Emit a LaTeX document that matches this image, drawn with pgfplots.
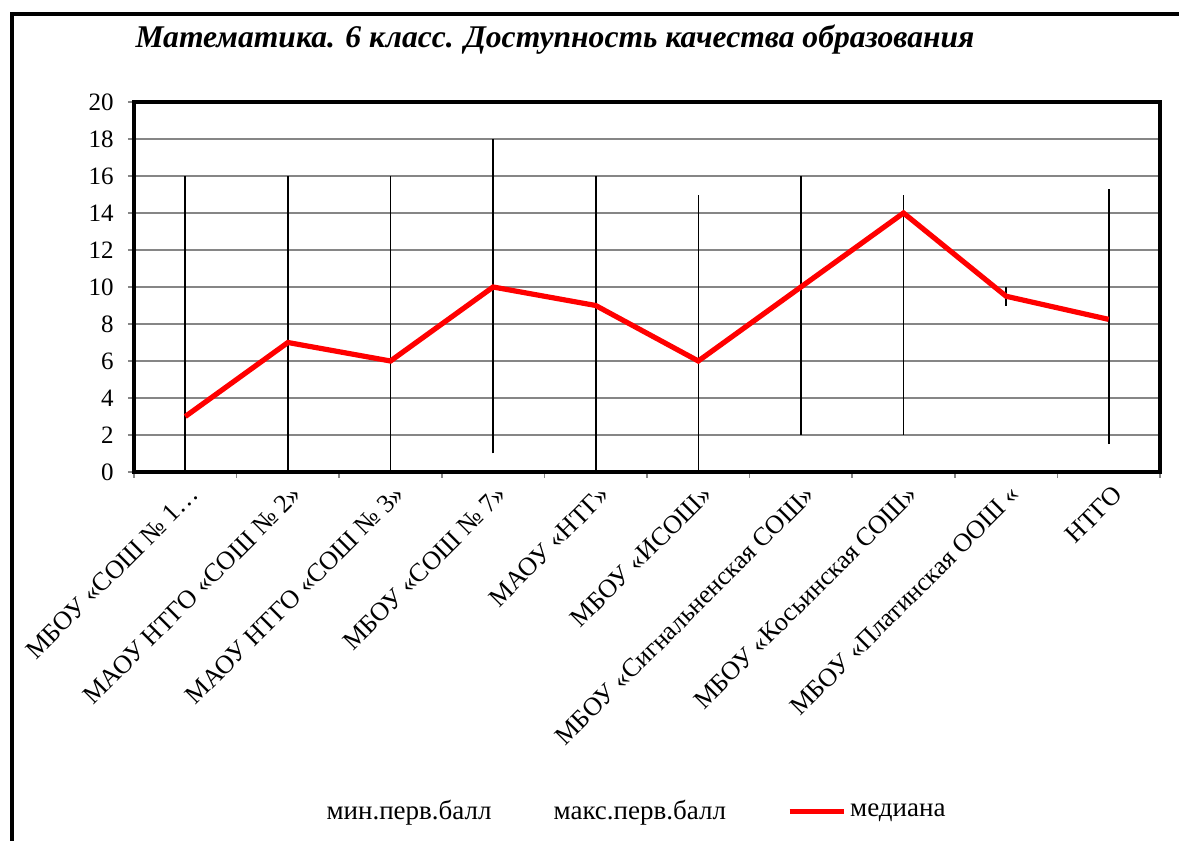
\documentclass[border=0pt]{standalone}
\usepackage{fontspec}
\setmainfont{Liberation Serif}
\usepackage{pgfplots}
\usepackage{pgfplotstable}
\pgfplotsset{compat=1.18}

\pgfplotstableread{
x min max med
1 0 16 3
2 0 16 7
3 0 16 6
4 1 18 10
5 0 16 9
6 0 15 6
7 2 16 10
8 2 15 14
9 9 10 9.5
10 1.5 15.3 8.25
}\data

\definecolor{gridgray}{RGB}{134,134,134}

\begin{document}
\begin{tikzpicture}
\begin{axis}[scale only axis,width=513pt,height=185pt,at={(67pt,184.5pt)},anchor=south west,
 xmin=0.5,xmax=10.5,ymin=0,ymax=20,
 ytick={0,2,...,20},
 xtick={1,...,10},
 xticklabels={МБОУ «СОШ № 1…,МАОУ НТГО «СОШ № 2»,МАОУ НТГО «СОШ № 3»,МБОУ «СОШ № 7»,МАОУ «НТГ»,МБОУ «ИСОШ»,МБОУ «Сигнальненская СОШ»,МБОУ «Косьинская СОШ»,МБОУ «Платинская ООШ «,НТГО},
 minor xtick={0.5,1.5,...,10.5},
 xtick pos=bottom,ytick pos=left,
 major x tick style={draw=none},
 minor x tick style={gridgray,line width=0.8pt},
 y tick style={gridgray,line width=0.8pt},
 tick align=outside,major tick length=3pt,minor tick length=3pt,
 ymajorgrids=true,grid style={gridgray,line width=0.6pt},
 axis line style={black,line width=1.8pt},
 /pgf/number format/assume math mode=true,
 yticklabel style={font=\fontsize{12.5}{14}\selectfont,inner sep=0pt,xshift=-7pt},
 xticklabel style={font=\fontsize{13}{15}\selectfont,rotate=45,anchor=north east,inner sep=0pt,yshift=-3pt,xshift=-1pt},
 legend columns=3,
 legend style={at={(0.463,-0.918)},anchor=center,draw=none,font=\fontsize{13.5}{15}\selectfont,
  /tikz/column 2/.style={column sep=0pt},/tikz/column 4/.style={column sep=28.5pt}},
 legend image code/.code={\draw[#1] (0pt,0pt) -- (27pt,0pt);},
]
\addplot[draw=none,mark=none,legend image code/.code={\path (0pt,0pt) -- (27pt,0pt);}] table[x=x,y=min] {\data};
\addlegendentry{мин.перв.балл}
\addplot[draw=none,mark=none,legend image code/.code={\path (0pt,0pt) -- (27pt,0pt);}] table[x=x,y=max] {\data};
\addlegendentry{макс.перв.балл}
\addplot[forget plot,draw=none,mark=none,error bars/.cd,y dir=plus,y explicit,error mark=none,
 error bar style={black,line width=0.8pt}] table[x=x,y=min,y error expr=\thisrow{max}-\thisrow{min}] {\data};
\addplot[red,line width=2.6pt,mark=none] table[x=x,y=med] {\data};
\addlegendentry{медиана}
\end{axis}
\node[anchor=base,font=\fontsize{15.8}{18}\selectfont\bfseries\itshape] at (277.5pt,396.5pt) {Математика. 6 класс. Доступность качества образования};
\draw[black,line width=2pt] (6pt,-10pt) -- (6pt,413.5pt) -- (600pt,413.5pt);
\pgfresetboundingbox
\useasboundingbox (0,0) rectangle (589.5pt,420.5pt);
\end{tikzpicture}
\end{document}
